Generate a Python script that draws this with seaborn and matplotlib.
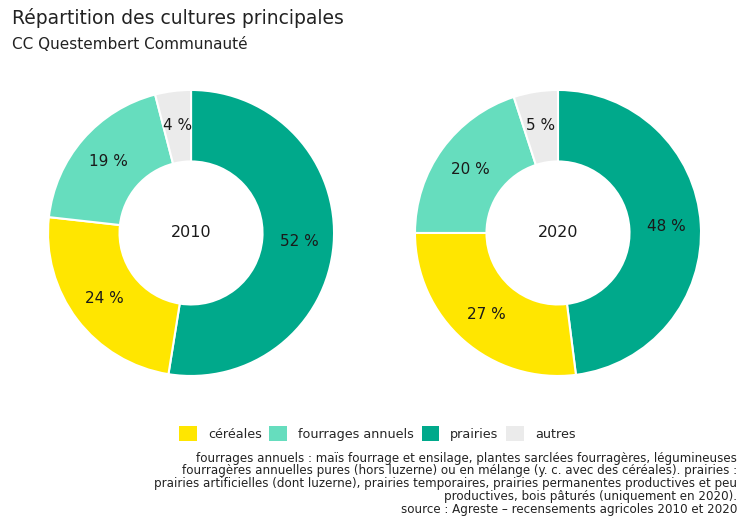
import matplotlib
matplotlib.use("Agg")
import matplotlib.pyplot as plt
import matplotlib.patches as mpatches
import seaborn as sns

categories = ["prairies", "céréales", "fourrages annuels", "autres"]
legend_order = ["céréales", "fourrages annuels", "prairies", "autres"]
years = ["2010", "2020"]
values_2010 = [52, 24, 19, 4]
values_2020 = [48, 27, 20, 5]
colors = {
    "céréales": "#FFE600",
    "fourrages annuels": "#66DDBE",
    "prairies": "#00A98B",
    "autres": "#EBEBEB",
}

caption = ("fourrages annuels : maïs fourrage et ensilage, plantes sarclées fourragères, légumineuses\n"
           "fourragères annuelles pures (hors luzerne) ou en mélange (y. c. avec des céréales). prairies :\n"
           "prairies artificielles (dont luzerne), prairies temporaires, prairies permanentes productives et peu\n"
           "productives, bois pâturés (uniquement en 2020).\n"
           "source : Agreste – recensements agricoles 2010 et 2020")

sns.set_theme(style="white")
plt.rcParams['font.family'] = ['DejaVu Sans']

fig = plt.figure(figsize=(7.4, 5.22), dpi=100)
fig.patch.set_facecolor("white")

positions = [[0.0649, 0.2797, 0.3865, 0.548], [0.5608, 0.2797, 0.3865, 0.548]]

for year, vals, pos in zip(years, [values_2010, values_2020], positions):
    ax = fig.add_axes(pos)
    it = iter(vals)
    wedges, texts, autotexts = ax.pie(
        vals,
        colors=[colors[c] for c in categories],
        startangle=90,
        counterclock=False,
        radius=1.0,
        wedgeprops=dict(width=0.5, edgecolor="white", linewidth=1.5),
        autopct=lambda p: f"{next(it)} %",
        pctdistance=0.76,
        textprops=dict(fontsize=11, color="#1a1a1a"),
    )
    ax.text(0, 0, year, ha="center", va="center", fontsize=11.5, color="#1a1a1a")
    ax.set_xlim(-1, 1)
    ax.set_ylim(-1, 1)
    ax.set_aspect("equal")
    ax.axis("off")

fig.text(0.016, 0.965, "Répartition des cultures principales", fontsize=13.5, color="#222222",
         ha="left", va="center")
fig.text(0.016, 0.915, "CC Questembert Communauté", fontsize=11, color="#222222",
         ha="left", va="center")

handles = [mpatches.Patch(facecolor=colors[c], edgecolor="none", label=c) for c in legend_order]
fig.legend(handles=handles, loc="center", bbox_to_anchor=(0.51, 0.17), ncol=4, frameon=False,
           fontsize=9.2, handlelength=1.4, handleheight=1.4, columnspacing=0.6, handletextpad=0.85)

fig.text(0.996, 0.135, caption, fontsize=8.6, color="#222222", ha="right", va="top",
         multialignment="right", linespacing=0.98)

fig.savefig("out.png", dpi=100, facecolor="white")
